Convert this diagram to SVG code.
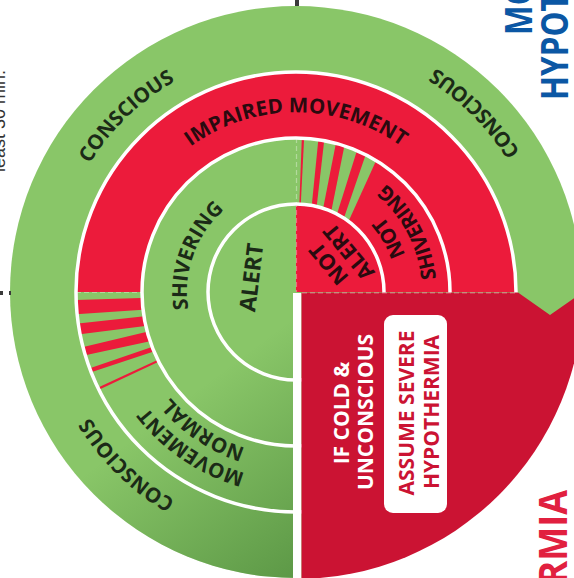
<svg xmlns="http://www.w3.org/2000/svg" width="574" height="578" viewBox="0 0 574 578">
<style>
.lbl{font-family:"Open Sans","Noto Sans","DejaVu Sans",sans-serif;font-weight:700;font-size:20.5px;text-anchor:middle}
.g{fill:#1B2A17}
.r{fill:#2A0A0F}
.ring{fill:none;stroke:#ffffff;stroke-width:3.5}
.fold{fill:none;stroke:#ffffff;stroke-opacity:.35;stroke-width:1.2;stroke-dasharray:5 3}
.stripe-r{fill:#EC1B3B}
.stripe-g{fill:#89C668}
.title{font-family:"Open Sans","Noto Sans",sans-serif;font-weight:700}
</style>
<defs>
  <clipPath id="cTR3"><path d="M296,138 A154,154 0 0 1 450,292 L384,292 A88,88 0 0 0 296,204 Z"/></clipPath>
  <clipPath id="cBL2"><path d="M76,292 A220,220 0 0 0 296,512 L296,446 A154,154 0 0 1 142,292 Z"/></clipPath>
  <clipPath id="cDisc"><circle cx="296" cy="292" r="287"/></clipPath>
  <linearGradient id="shade" gradientUnits="userSpaceOnUse" x1="170" y1="410" x2="296" y2="578">
    <stop offset="0" stop-color="#3F7A30" stop-opacity="0"/>
    <stop offset="1" stop-color="#3F7A30" stop-opacity="0.6"/>
  </linearGradient>
  <path id="pConTL" d="M60.2,350.8 A243,243 0 0 1 363.0,58.4"/>
  <path id="pConTR" d="M551.0,360.3 A264,264 0 0 0 227.7,37.0"/>
  <path id="pConBL" d="M360.8,524.1 A241,241 0 0 1 62.6,232.1"/>
  <path id="pImp" d="M119.2,260.8 A179.5,179.5 0 0 1 472.8,260.8"/>
  <path id="pShiv" d="M225.9,375.5 A109,109 0 0 1 296,183"/>
  <path id="pNot2" d="M404.1,331.3 A115,115 0 0 0 316.0,178.7"/>
  <path id="pShiv2" d="M415.1,366.5 A140.5,140.5 0 0 0 300.9,151.6"/>
  <path id="pMov" d="M378.4,461.0 A188,188 0 0 1 108.5,278.9"/>
  <path id="pNorm" d="M367.9,439.4 A164,164 0 0 1 132.4,280.6"/>
</defs>

<g id="outer-disc">
  <circle cx="296" cy="292" r="286" fill="#89C668"/>
</g>

<g id="impaired-movement-ring">
  <path d="M76,292 A220,220 0 0 1 516,292 L450,292 A154,154 0 0 0 142,292 Z" fill="#EC1B3B"/>
</g>

<g id="not-shivering-not-alert">
  <path d="M296,292 L296,138 A154,154 0 0 1 450,292 Z" fill="#EC1B3B"/>
  <g clip-path="url(#cTR3)" class="stripe-g">
    <polygon points="290,125 302.3,125 298.2,235 290,235"/>
    <polygon points="304.8,125 319.8,125 308.8,235 299.2,235"/>
    <polygon points="326.0,125 339.5,125 317.9,235 313.4,235"/>
    <polygon points="348.6,125 365.0,125 330.4,235 326.5,235"/>
    <polygon points="375.9,125 392.3,125 342.3,235 338.1,235"/>
  </g>
</g>

<g id="lower-left-shade">
  <path d="M296,292 L10,292 A286,286 0 0 0 296,578 Z" fill="url(#shade)"/>
</g>

<g id="movement-normal-stripes" clip-path="url(#cBL2)" class="stripe-r">
  <polygon points="70,300.3 165,297.2 165,308.3 70,314.7"/>
  <polygon points="70,324.3 165,313.9 165,323.5 70,335.5"/>
  <polygon points="70,350.3 165,327.5 165,338 70,358.5"/>
  <polygon points="70,375 165,342.4 165,347.8 70,379.2"/>
  <polygon points="70,400.6 165,356.5 165,358.7 70,403.4"/>
</g>

<g id="ring-dividers">
  <circle class="ring" cx="296" cy="292" r="88"/>
  <circle class="ring" cx="296" cy="292" r="154"/>
  <circle class="ring" cx="296" cy="292" r="220"/>
  <line class="fold" x1="296.5" y1="138" x2="296.5" y2="292"/>
  <line class="fold" x1="76" y1="292.5" x2="142" y2="292.5"/>
  <rect x="293" y="293" width="8.5" height="285" fill="#ffffff"/>
</g>

<g id="severe-quadrant">
  <path d="M301.5,292.5 L518,292.5 L550,315 L600,280 L600,600 L301.5,600 Z" fill="#CB1333" clip-path="url(#cDisc)"/>
  <line class="fold" x1="302" y1="292.8" x2="517" y2="292.8"/>
  <text class="lbl" style="fill:#ffffff;font-size:21px" transform="translate(349,413) rotate(-90)">IF COLD &amp;</text>
  <text class="lbl" style="fill:#ffffff;font-size:21px" transform="translate(373,412) rotate(-90)">UNCONSCIOUS</text>
  <g id="assume-box">
    <rect x="384" y="315" width="63" height="198" rx="9" fill="#ffffff"/>
    <text class="lbl" style="fill:#CB1333;font-size:21px" transform="translate(414,413) rotate(-90)">ASSUME SEVERE</text>
    <text class="lbl" style="fill:#CB1333;font-size:21px" transform="translate(439,412) rotate(-90)">HYPOTHERMIA</text>
  </g>
</g>

<g id="labels-conscious">
  <text class="lbl g"><textPath href="#pConTL" startOffset="50%">CONSCIOUS</textPath></text>
  <text class="lbl g"><textPath href="#pConTR" startOffset="50%">CONSCIOUS</textPath></text>
  <text class="lbl g"><textPath href="#pConBL" startOffset="50%">CONSCIOUS</textPath></text>
</g>
<g id="labels-movement">
  <text class="lbl r"><textPath href="#pImp" startOffset="50%">IMPAIRED MOVEMENT</textPath></text>
  <text class="lbl g"><textPath href="#pMov" startOffset="50%">MOVEMENT</textPath></text>
  <text class="lbl g"><textPath href="#pNorm" startOffset="50%">NORMAL</textPath></text>
</g>
<g id="labels-shivering">
  <text class="lbl g"><textPath href="#pShiv" startOffset="50%">SHIVERING</textPath></text>
  <text class="lbl r"><textPath href="#pNot2" startOffset="50%">NOT</textPath></text>
  <text class="lbl r"><textPath href="#pShiv2" startOffset="50%">SHIVERING</textPath></text>
</g>
<g id="labels-alert">
  <text class="lbl g" style="font-size:22.5px" transform="translate(259.2,278.5) rotate(-83)">ALERT</text>
  <text class="lbl r" style="font-size:21.5px" transform="translate(334.5,259) rotate(-130)">NOT</text>
  <text class="lbl r" style="font-size:21.5px" transform="translate(354.5,247) rotate(-130)">ALERT</text>
</g>

<g id="titles">
  <text class="title" style="font-size:37px;fill:#0B57A4" transform="translate(532,35) rotate(-90) scale(0.85,1)">MO</text>
  <text class="title" style="font-size:37px;fill:#0B57A4" transform="translate(568,100) rotate(-90) scale(0.85,1)">HYPOT</text>
  <text class="title" style="font-size:40px;fill:#E1203F;text-anchor:end" transform="translate(567,490) rotate(-90) scale(0.9,1)">ERMIA</text>
  <text style="font-family:'Liberation Sans',Arial,sans-serif;font-size:18px;fill:#333333;text-anchor:middle" transform="translate(5,121) rotate(-90)">least 30 min.</text>
</g>

<g id="ticks" fill="#3A3A3A">
  <rect x="295" y="0" width="4" height="6"/>
  <rect x="0" y="291" width="3" height="4"/>
  <rect x="9" y="291" width="2" height="4"/>
</g>
<g id="connectors"/>
</svg>
